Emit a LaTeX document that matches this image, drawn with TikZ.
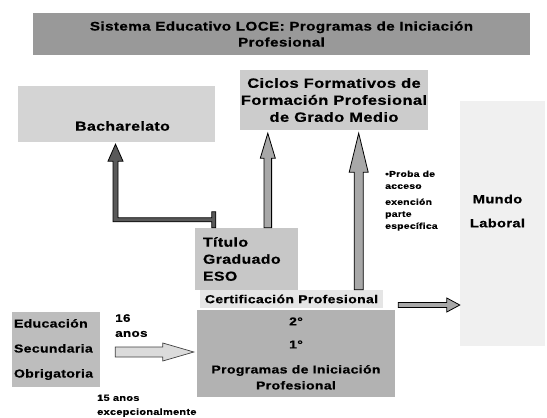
\documentclass[tikz,border=0pt]{standalone}
\usepackage{fontspec}
\setmainfont{Liberation Sans}[FakeStretch=1.22,LetterSpace=3,BoldFeatures={FakeBold=0.6}]
\usetikzlibrary{calc}
\definecolor{cTitle}{gray}{0.6}
\definecolor{cBach}{gray}{0.83}
\definecolor{cCiclos}{gray}{0.8}
\definecolor{cTit}{gray}{0.78}
\definecolor{cProg}{gray}{0.7}
\definecolor{cEdu}{gray}{0.74}
\definecolor{cCert}{gray}{0.9}
\definecolor{cMundo}{gray}{0.94}
\definecolor{cArrow}{gray}{0.66}
\definecolor{cEduArr}{gray}{0.86}
\definecolor{cDark}{gray}{0.35}
% vertical block arrow: #1 style, #2 start, #3 tip, #4 shaft half, #5 head half, #6 head length
\newcommand\blockup[6]{%
  \draw[#1] let \p1=#2, \p2=#3 in
    (\x1-#4,\y1) -- (\x1-#4,\y2-#6) -- (\x1-#5,\y2-#6) -- (\x1,\y2)
    -- (\x1+#5,\y2-#6) -- (\x1+#4,\y2-#6) -- (\x1+#4,\y1) -- cycle;}
% horizontal block arrow to the right
\newcommand\blockright[6]{%
  \draw[#1] let \p1=#2, \p2=#3 in
    (\x1,\y1-#4) -- (\x2-#6,\y1-#4) -- (\x2-#6,\y1-#5) -- (\x2,\y1)
    -- (\x2-#6,\y1+#5) -- (\x2-#6,\y1+#4) -- (\x1,\y1+#4) -- cycle;}
\begin{document}
\begin{tikzpicture}[x=1pt,y=-1pt,
  box/.style={inner sep=0pt, align=center},
  garrow/.style={fill=cArrow, draw=black, line width=0.8pt},
  earrow/.style={fill=cEduArr, draw=black!75, line width=0.7pt},
  darrow/.style={fill=cDark, draw=black, line width=0.8pt},
  smalltxt/.style={inner sep=0pt, align=left, anchor=north west}]
\useasboundingbox (0,0) rectangle (547,418);
\fill[white] (0,0) rectangle (547,418);

% boxes
\node[box, fill=cTitle, minimum width=497pt, minimum height=42pt,
  font=\fontsize{12.5}{16}\selectfont\bfseries] (title) at (281.5,34)
  {Sistema Educativo LOCE: Programas de Iniciación\\Profesional};

\node[box, fill=cBach, minimum width=197pt, minimum height=56pt,
  label={[name=bachtxt, font=\fontsize{13}{16}\selectfont\bfseries, xshift=6pt, yshift=-12pt]center:Bacharelato}]
  (bach) at (116.5,114) {};

\node[box, fill=cCiclos, minimum width=188pt, minimum height=60pt,
  font=\fontsize{13.5}{17}\selectfont\bfseries] (ciclos) at (334,100)
  {Ciclos Formativos de\\Formación Profesional\\de Grado Medio};

\node[box, fill=cMundo, minimum width=85pt, minimum height=245pt,
  label={[name=mundotxt, align=center, font=\fontsize{12}{24}\selectfont\bfseries, xshift=-5pt, yshift=12.5pt]center:Mundo\\Laboral}]
  (mundo) at (502.5,223.5) {};

\node[box, fill=cTit, minimum width=103pt, minimum height=62pt, align=left, text width=87pt,
  font=\fontsize{13}{17}\selectfont\bfseries] (titulo) at (246.5,259)
  {Título\\Graduado\\ESO};

\node[box, fill=cCert, minimum width=183pt, minimum height=18pt,
  font=\fontsize{11.5}{14}\selectfont\bfseries] (cert) at (291.5,299)
  {Certificación Profesional};

\node[box, fill=cProg, minimum width=198pt, minimum height=87pt,
  font=\fontsize{11.5}{15}\selectfont\bfseries] (prog) at (296,353.5)
  {2°\\[8pt]1°\\[10pt]Programas de Iniciación\\[1pt]Profesional};

\node[box, fill=cEdu, minimum width=88pt, minimum height=75pt, align=left, text width=84pt,
  font=\fontsize{11.5}{25}\selectfont\bfseries] (edu) at (56,349.5)
  {Educación\\Secundaria\\Obrigatoria};

% free texts
\node[smalltxt, font=\fontsize{11}{15}\selectfont\bfseries] (t16) at (115,314) {16\\anos};
\node[smalltxt, font=\fontsize{9}{14}\selectfont\bfseries] (t15) at (97,394.5) {15 anos\\excepcionalmente};
\node[smalltxt, font=\fontsize{8.5}{12}\selectfont\bfseries] (proba) at (385,170.5)
  {•Proba de\\acceso\\[4pt]exención\\parte\\específica};

% connectors
\coordinate (lstart) at ($(titulo.north west)+(19,0)$);
\coordinate (ltip) at ($(bach.south)+(-1,2)$);
\draw[darrow] let \p1=(lstart), \p2=(ltip) in
  (\x1+2pt,\y1) -- (\x1+2pt,\y1+16pt) -- (\x1-2pt,\y1+16pt) -- (\x1-2pt,\y1+10pt)
  -- (\x2+2.5pt,\y1+10pt) -- (\x2+2.5pt,\y2-17pt) -- (\x2+7.5pt,\y2-17pt) -- (\x2,\y2)
  -- (\x2-7.5pt,\y2-17pt) -- (\x2-2.5pt,\y2-17pt) -- (\x2-2.5pt,\y1+6pt)
  -- (\x1-2pt,\y1+6pt) -- (\x1-2pt,\y1) -- cycle;

\blockup{garrow}{($(titulo.north west)+(73,0)$)}{($(ciclos.south)+(0,3)$)}{3.8pt}{7.5pt}{25pt}
\blockup{garrow}{($(cert.north east)+(-24.5,0)$)}{($(ciclos.south)+(0,3)$)}{4.5pt}{9.5pt}{39pt}
\blockright{earrow}{($(edu.east)+(15,2.5)$)}{($(prog.west)+(-3,0)$)}{5pt}{9pt}{31pt}
\blockright{garrow}{($(cert.east)+(15,6)$)}{(mundo.west)}{2.5pt}{7pt}{13pt}
\end{tikzpicture}
\end{document}
